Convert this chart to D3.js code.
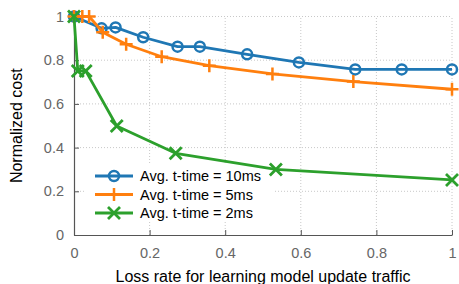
<!DOCTYPE html>
<html>
<head>
<meta charset="utf-8">
<script src="https://cdn.jsdelivr.net/npm/d3@7"></script>
<style>
  body { margin: 0; background: #fff; }
  svg { display: block; font-family: "Liberation Sans", Arial, sans-serif; }
</style>
</head>
<body>
<div id="chart"></div>
<script>
// data
const xTicks = [0, 0.2, 0.4, 0.6, 0.8, 1];
const yTicks = [0, 0.2, 0.4, 0.6, 0.8, 1];
const xTickLabels = ["0", "0.2", "0.4", "0.6", "0.8", "1"];
const yTickLabels = ["0", "0.2", "0.4", "0.6", "0.8", "1"];

const seriesNames = ["Avg. t-time = 10ms", "Avg. t-time = 5ms", "Avg. t-time = 2ms"];

const x10 = [0, 0.073, 0.11, 0.183, 0.274, 0.333, 0.458, 0.595, 0.744, 0.867, 1.0];
const y10 = [1.0, 0.946, 0.95, 0.905, 0.862, 0.862, 0.827, 0.79, 0.758, 0.758, 0.758];

const x5 = [0, 0.022, 0.04, 0.076, 0.138, 0.232, 0.358, 0.525, 0.739, 1.0];
const y5 = [1.0, 1.0, 1.0, 0.928, 0.873, 0.816, 0.775, 0.737, 0.702, 0.667];

const x2 = [0, 0.01, 0.031, 0.113, 0.269, 0.534, 1.0];
const y2 = [1.0, 0.751, 0.751, 0.499, 0.374, 0.30, 0.252];

const colors = ["#1f77b4", "#ff7f0e", "#2ca02c"];
const markers = ["circle", "plus", "cross"];

const width = 459, height = 284;
const margin = { top: 16.5, left: 74, right: 7, bottom: 49 };

const svg = d3.select("#chart").append("svg")
  .attr("width", width)
  .attr("height", height);

const xScale = d3.scaleLinear().domain([0, 1]).range([margin.left, width - margin.right]);
const yScale = d3.scaleLinear().domain([0, 1]).range([height - margin.bottom, margin.top]);

// grid
const grid = svg.append("g").attr("class", "grid");
grid.selectAll("line.gx")
  .data(xTicks.slice(1))
  .join("line")
  .attr("class", "gx")
  .attr("x1", d => xScale(d)).attr("x2", d => xScale(d))
  .attr("y1", yScale(0)).attr("y2", yScale(1))
  .attr("stroke", "#c8c8c8")
  .attr("stroke-width", 1)
  .attr("stroke-dasharray", "1,2");
grid.selectAll("line.gy")
  .data(yTicks.slice(1))
  .join("line")
  .attr("class", "gy")
  .attr("x1", xScale(0)).attr("x2", xScale(1))
  .attr("y1", d => yScale(d)).attr("y2", d => yScale(d))
  .attr("stroke", "#c8c8c8")
  .attr("stroke-width", 1)
  .attr("stroke-dasharray", "1,2");

// legend background hides the grid only
const legendBox = { x: 84, y: 164, w: 189, h: 58 };
svg.append("rect")
  .attr("x", legendBox.x).attr("y", legendBox.y)
  .attr("width", legendBox.w).attr("height", legendBox.h)
  .attr("fill", "#fff");

// axes
const xAxis = d3.axisBottom(xScale)
  .tickValues(xTicks)
  .tickFormat((d, i) => xTickLabels[i])
  .tickSizeInner(-5)
  .tickSizeOuter(0)
  .tickPadding(13);
const yAxis = d3.axisLeft(yScale)
  .tickValues(yTicks)
  .tickFormat((d, i) => yTickLabels[i])
  .tickSizeInner(-5)
  .tickSizeOuter(0)
  .tickPadding(10);

const gx = svg.append("g")
  .attr("transform", `translate(0, ${yScale(0)})`)
  .call(xAxis);
const gy = svg.append("g")
  .attr("transform", `translate(${xScale(0)}, 0)`)
  .call(yAxis);

[gx, gy].forEach(g => {
  g.select(".domain").attr("stroke", "#555").attr("stroke-width", 1.2);
  g.selectAll(".tick line").attr("stroke", "#555").attr("stroke-width", 1);
  g.selectAll(".tick text")
    .attr("fill", "#666")
    .style("font-size", "14.5px")
    .style("font-family", "Liberation Sans, Arial, sans-serif");
});

// axis titles
svg.append("text")
  .attr("x", (xScale(0) + xScale(1)) / 2)
  .attr("y", 282)
  .attr("text-anchor", "middle")
  .style("font-size", "16px")
  .attr("fill", "#000")
  .text("Loss rate for learning model update traffic");

svg.append("text")
  .attr("transform", `translate(22, ${(yScale(0) + yScale(1)) / 2}) rotate(-90)`)
  .attr("text-anchor", "middle")
  .style("font-size", "16px")
  .attr("fill", "#000")
  .text("Normalized cost");

// marker drawing
function drawMarker(g, type, color, cx, cy) {
  if (type === "circle") {
    g.append("circle")
      .attr("cx", cx).attr("cy", cy).attr("r", 5)
      .attr("fill", "none")
      .attr("stroke", color)
      .attr("stroke-width", 2.5);
  } else if (type === "plus") {
    const s = 6.5;
    g.append("path")
      .attr("d", `M${cx - s},${cy}H${cx + s}M${cx},${cy - s}V${cy + s}`)
      .attr("stroke", color)
      .attr("stroke-width", 2.5)
      .attr("fill", "none");
  } else {
    const s = 6;
    g.append("path")
      .attr("d", `M${cx - s},${cy - s}L${cx + s},${cy + s}M${cx - s},${cy + s}L${cx + s},${cy - s}`)
      .attr("stroke", color)
      .attr("stroke-width", 2.8)
      .attr("fill", "none");
  }
}

const series = [
  { xs: x10, ys: y10 },
  { xs: x5, ys: y5 },
  { xs: x2, ys: y2 },
];

const line = d3.line()
  .x(d => xScale(d[0]))
  .y(d => yScale(d[1]));

series.forEach((s, k) => {
  const pts = s.xs.map((v, i) => [v, s.ys[i]]);
  const g = svg.append("g").attr("class", "series");
  g.append("path")
    .datum(pts)
    .attr("d", line)
    .attr("fill", "none")
    .attr("stroke", colors[k])
    .attr("stroke-width", 2.8)
    .attr("stroke-linejoin", "round");
  pts.forEach(p => drawMarker(g, markers[k], colors[k], xScale(p[0]), yScale(p[1])));
});

// legend
const legend = svg.append("g").attr("class", "legend");
const legendRowY = [176, 194.5, 213];
seriesNames.forEach((name, k) => {
  const y = legendRowY[k];
  legend.append("line")
    .attr("x1", 95).attr("x2", 133)
    .attr("y1", y).attr("y2", y)
    .attr("stroke", colors[k])
    .attr("stroke-width", 2.8);
  drawMarker(legend, markers[k], colors[k], 114, y);
  legend.append("text")
    .attr("x", 140).attr("y", y)
    .attr("dy", "0.35em")
    .style("font-size", "14.5px")
    .attr("fill", "#000")
    .text(name);
});
</script>
</body>
</html>
